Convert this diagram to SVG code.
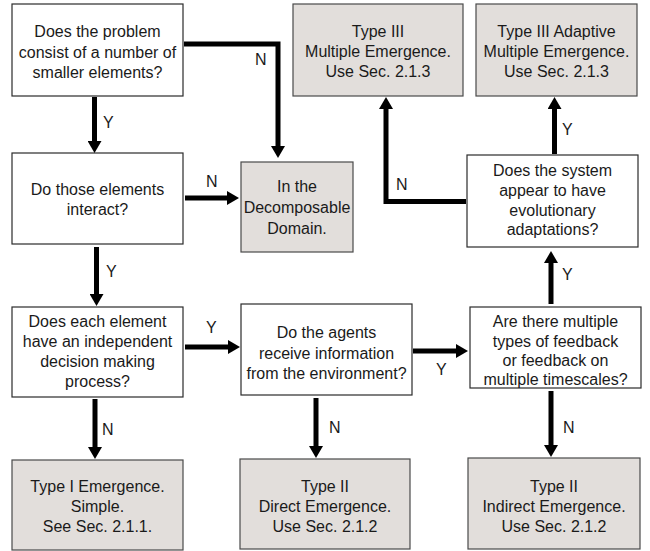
<svg xmlns="http://www.w3.org/2000/svg" width="650" height="551" viewBox="0 0 650 551">
<style>
.q{fill:#ffffff;stroke:#2b2b2b;stroke-width:1.2}
.r{fill:#e2dedb;stroke:#4a4a4a;stroke-width:1.2}
text{font-family:"Liberation Sans",Arial,sans-serif;font-size:16px;fill:#1a1a1a}
.c{text-anchor:middle}
.a{fill:none;stroke:#000;stroke-width:5;stroke-linejoin:miter;marker-end:url(#ah)}
</style>
<defs>
<marker id="ah" viewBox="0 0 12 14" refX="1" refY="7" markerWidth="12" markerHeight="14" markerUnits="userSpaceOnUse" orient="auto">
<path d="M0,0 L12,7 L0,14 z" fill="#000"/>
</marker>
</defs>
<g id="q1"><rect class="q" x="12" y="4" width="171" height="92"/>
<text class="c" x="97.5" y="37">Does the problem</text><text class="c" x="97.5" y="58">consist of a number of</text><text class="c" x="97.5" y="78">smaller elements?</text></g>
<g id="q2"><rect class="q" x="12" y="153" width="171" height="91"/>
<text class="c" x="97.5" y="195">Do those elements</text><text class="c" x="97.5" y="215">interact?</text></g>
<g id="decomp"><rect class="r" x="241" y="162" width="112" height="90"/>
<text class="c" x="297" y="192">In the</text><text class="c" x="297" y="213">Decomposable</text><text class="c" x="297" y="234">Domain.</text></g>
<g id="q3"><rect class="q" x="12" y="307" width="171" height="90"/>
<text class="c" x="97.5" y="327">Does each element</text><text class="c" x="97.5" y="347">have an independent</text><text class="c" x="97.5" y="367">decision making</text><text class="c" x="97.5" y="387">process?</text></g>
<g id="q4"><rect class="q" x="241" y="304" width="171" height="91"/>
<text class="c" x="326.5" y="338">Do the agents</text><text class="c" x="326.5" y="359">receive information</text><text class="c" x="326.5" y="379">from the environment?</text></g>
<g id="q5"><rect class="q" x="470" y="307" width="171" height="81"/>
<text class="c" x="555.5" y="327">Are there multiple</text><text class="c" x="555.5" y="347">types of feedback</text><text class="c" x="555.5" y="366">or feedback on</text><text class="c" x="555.5" y="385">multiple timescales?</text></g>
<g id="q6"><rect class="q" x="467" y="155" width="171" height="92"/>
<text class="c" x="552.5" y="176">Does the system</text><text class="c" x="552.5" y="196">appear to have</text><text class="c" x="552.5" y="216">evolutionary</text><text class="c" x="552.5" y="235">adaptations?</text></g>
<g id="type3"><rect class="r" x="293" y="4" width="170" height="92"/>
<text class="c" x="378" y="37">Type III</text><text class="c" x="378" y="57">Multiple Emergence.</text><text class="c" x="378" y="77">Use Sec. 2.1.3</text></g>
<g id="type3a"><rect class="r" x="476" y="4" width="161" height="92"/>
<text class="c" x="556.5" y="37">Type III Adaptive</text><text class="c" x="556.5" y="57">Multiple Emergence.</text><text class="c" x="556.5" y="77">Use Sec. 2.1.3</text></g>
<g id="type1"><rect class="r" x="12" y="460" width="171" height="90"/>
<text class="c" x="97.5" y="492">Type I Emergence.</text><text class="c" x="97.5" y="512">Simple.</text><text class="c" x="97.5" y="532">See Sec. 2.1.1.</text></g>
<g id="type2d"><rect class="r" x="240" y="459" width="170" height="90"/>
<text class="c" x="325" y="492">Type II</text><text class="c" x="325" y="512">Direct Emergence.</text><text class="c" x="325" y="532">Use Sec. 2.1.2</text></g>
<g id="type2i"><rect class="r" x="468" y="458" width="172" height="91"/>
<text class="c" x="554" y="492">Type II</text><text class="c" x="554" y="512">Indirect Emergence.</text><text class="c" x="554" y="532">Use Sec. 2.1.2</text></g>
<g id="connectors">
<path class="a" d="M94.5,97 V142"/>
<text x="103" y="128">Y</text>
<path class="a" d="M184,44 H278 V147"/>
<text x="255" y="65">N</text>
<path class="a" d="M185,198 H228"/>
<text x="206" y="187">N</text>
<path class="a" d="M96.5,247 V295"/>
<text x="106" y="277">Y</text>
<path class="a" d="M185,347 H229"/>
<text x="206" y="333">Y</text>
<path class="a" d="M413,351 H457"/>
<text x="436" y="375">Y</text>
<path class="a" d="M551,304 V262"/>
<text x="562" y="280">Y</text>
<path class="a" d="M466,201.5 H386 V108"/>
<text x="396" y="190">N</text>
<path class="a" d="M554.5,154 V108"/>
<text x="562" y="135">Y</text>
<path class="a" d="M95,399 V448"/>
<text x="102" y="435">N</text>
<path class="a" d="M316,398 V447"/>
<text x="329" y="433">N</text>
<path class="a" d="M551,391 V446"/>
<text x="563" y="433">N</text>
</g>
</svg>
